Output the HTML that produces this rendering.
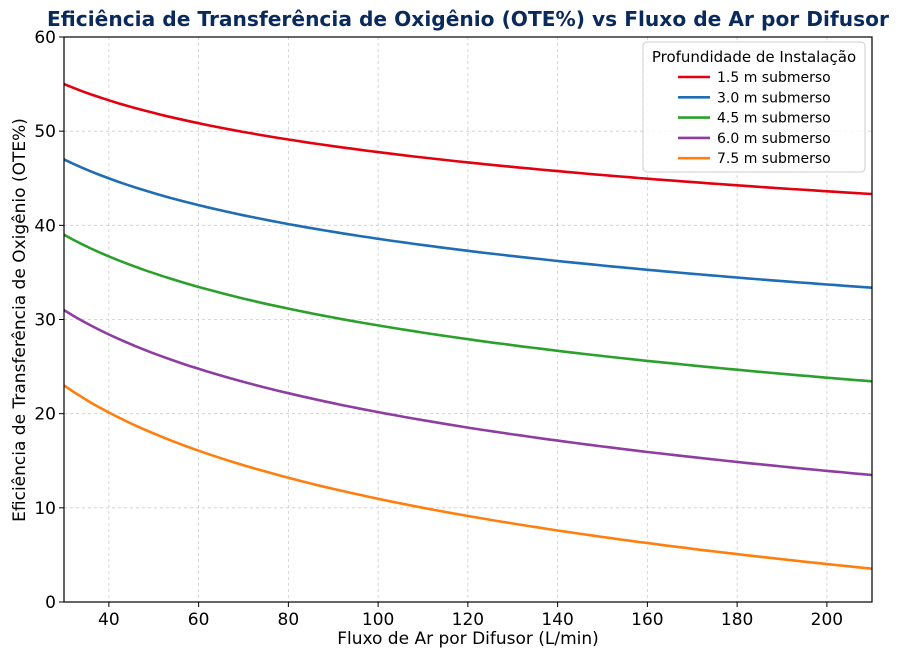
<!DOCTYPE html>
<html><head><meta charset="utf-8"><style>
body{margin:0;background:#fff;}
svg text{font-family:"DejaVu Sans","Liberation Sans",sans-serif;}
</style></head><body>
<svg id="s" width="900" height="659" viewBox="0 0 900 659" xmlns="http://www.w3.org/2000/svg">
<rect width="900" height="659" fill="#fff"/>
<text x="468" y="26" text-anchor="middle" font-size="20.2" font-weight="bold" fill="#0b2a5c">Eficiência de Transferência de Oxigênio (OTE%) vs Fluxo de Ar por Difusor</text>
<g id="grid" stroke="#cccccc" stroke-width="0.8" stroke-dasharray="3,3"></g>
<g id="curves" fill="none" stroke-width="2.6"></g>
<rect x="64" y="37" width="808" height="565" fill="none" stroke="#000" stroke-width="1.2"/>
<g id="ticks" font-size="17" fill="#000"></g>
<text x="468" y="644" text-anchor="middle" font-size="17">Fluxo de Ar por Difusor (L/min)</text>
<text transform="translate(25,320) rotate(-90)" text-anchor="middle" font-size="17">Eficiência de Transferência de Oxigênio (OTE%)</text>
<rect x="643" y="42" width="222" height="130" rx="4" fill="#fff" fill-opacity="0.85" stroke="#ccc"/>
<text x="754" y="62" text-anchor="middle" font-size="15">Profundidade de Instalação</text>
<g font-size="14" id="leg"></g>
</svg>
<script>
var X=function(v){return 64+(v-30)*4.4875},Y=function(v){return 602-v*9.4167};
var g=document.getElementById('grid'),t=document.getElementById('ticks'),c=document.getElementById('curves'),l=document.getElementById('leg');
var h='',tt='';
for(var x=40;x<=200;x+=20){h+='<line x1="'+X(x)+'" x2="'+X(x)+'" y1="37" y2="602"/>';tt+='<line x1="'+X(x)+'" x2="'+X(x)+'" y1="602" y2="607" stroke="#000"/><text x="'+X(x)+'" y="625" text-anchor="middle">'+x+'</text>';}
for(var y=0;y<=60;y+=10){h+='<line x1="64" x2="872" y1="'+Y(y)+'" y2="'+Y(y)+'"/>';tt+='<line x1="59" x2="64" y1="'+Y(y)+'" y2="'+Y(y)+'" stroke="#000"/><text x="56" y="'+(Y(y)+6)+'" text-anchor="end">'+y+'</text>';}
g.innerHTML=h;t.innerHTML=tt;
var S=[[55,6,'#e3000f','1.5'],[47,7,'#1f6db5','3.0'],[39,8,'#2ca02c','4.5'],[31,9,'#8e3ea0','6.0'],[23,10,'#ff7f0e','7.5']];
var cc='',ll='';
S.forEach(function(s,i){var p=[];for(var x=30;x<=210;x+=2)p.push(X(x).toFixed(1)+','+Y(s[0]-s[1]*Math.log(x/30)).toFixed(1));
cc+='<polyline stroke="'+s[2]+'" points="'+p.join(' ')+'"/>';
var yy=77+i*20.3;ll+='<line x1="678" x2="710" y1="'+yy+'" y2="'+yy+'" stroke="'+s[2]+'" stroke-width="2.6"/><text x="717" y="'+(yy+5)+'">'+s[3]+' m submerso</text>';});
c.innerHTML=cc;l.innerHTML=ll;
</script>
</body></html>
